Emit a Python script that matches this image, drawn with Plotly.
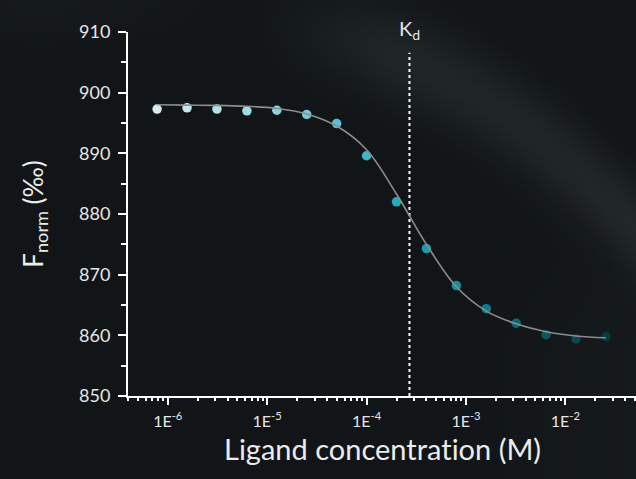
import base64, struct, zlib
import numpy as np
import plotly.graph_objects as go

# ---------------- data ----------------
conc = [7.8125e-7, 1.5625e-6, 3.125e-6, 6.25e-6, 1.25e-5, 2.5e-5, 5e-5, 1e-4,
        2e-4, 4e-4, 8e-4, 1.6e-3, 3.2e-3, 6.4e-3, 1.28e-2, 2.56e-2]
fnorm = [897.3, 897.5, 897.3, 897.0, 897.1, 896.4, 894.9, 889.6,
         882.0, 874.3, 868.2, 864.4, 862.0, 860.1, 859.4, 859.8]
point_colors = ["#d2eef0", "#c2e8ec", "#b0e2e8", "#9edbe2", "#89d3dd", "#72cbd7",
                "#58c1d1", "#3bb6c7", "#22aabd", "#1c9daf", "#178c9d", "#137a89",
                "#106875", "#0d5760", "#0a474e", "#083a3e"]
fit_conc = conc
fit_fnorm = [898.0, 897.95, 897.9, 897.75, 897.4, 896.5, 894.5, 890.6,
             883.3, 875.0, 868.0, 864.0, 861.9, 860.6, 859.9, 859.6]
kd = 2.7e-4
kd_top = 906.6
major_ticks = [1e-6, 1e-5, 1e-4, 1e-3, 1e-2]
major_text = ["1E<sup>-6</sup>", "1E<sup>-5</sup>", "1E<sup>-4</sup>",
              "1E<sup>-3</sup>", "1E<sup>-2</sup>"]
minor_ticks = [m * 10.0 ** e for e in range(-7, 0) for m in range(2, 10)]
x_title = "Ligand concentrat\u200cion (M)"
y_title = "F<sub>norm</sub> (‰)"

# ---------------- background texture ----------------
def make_png(arr):
    h, w, _ = arr.shape
    raw = b"".join(b"\x00" + arr[i].tobytes() for i in range(h))
    def chunk(t, d):
        c = struct.pack(">I", len(d)) + t + d
        return c + struct.pack(">I", zlib.crc32(t + d) & 0xFFFFFFFF)
    return (b"\x89PNG\r\n\x1a\n" + chunk(b"IHDR", struct.pack(">IIBBBBB", w, h, 8, 2, 0, 0, 0))
            + chunk(b"IDAT", zlib.compress(raw, 9)) + chunk(b"IEND", b""))

W, H = 636, 479
gw, gh = 159, 120
xs = np.linspace(0, W, gw)[None, :]
ys = np.linspace(0, H, gh)[:, None]
dx = xs - 290
cy = 30 + 0.096 * dx + 0.001355 * np.clip(dx, 0, None) ** 2
d = ys - cy
streak = np.exp(-(d / 50.0) ** 2) * np.clip((xs - 250) / 140.0, 0, 1)
corner = np.exp(-((xs - 40) / 160.0) ** 2 - (ys / 45.0) ** 2) * 0.5
right = np.clip((xs - 420) / 216.0, 0, 1) * np.clip((ys - 150) / 200.0, 0, 1) * 0.35
lum = streak * 16 + corner * 10 + right * 14
base = np.array([17, 21, 23], dtype=float)
img = np.clip(base[None, None, :] + lum[..., None] * np.array([1.0, 1.06, 1.06]), 0, 255).astype(np.uint8)
bg_uri = "data:image/png;base64," + base64.b64encode(make_png(img)).decode()

# ---------------- figure ----------------
fig = go.Figure()
fig.add_trace(go.Scatter(x=fit_conc, y=fit_fnorm, mode="lines", line_shape="spline",
                         line=dict(color="#8c8c8c", width=1.6), hoverinfo="skip",
                         showlegend=False, xaxis="x2"))
fig.add_trace(go.Scatter(x=[kd, kd], y=[850, kd_top], mode="lines",
                         line=dict(color="white", width=2, dash="3px,3px"),
                         showlegend=False, hoverinfo="skip"))
fig.add_trace(go.Scatter(x=conc, y=fnorm, mode="markers",
                         marker=dict(size=9.5, color=point_colors, line=dict(width=0)),
                         showlegend=False))

fig.add_annotation(x=np.log10(kd), y=1, xref="x", yref="paper", yanchor="bottom",
                   yshift=-13, text="K<sub>d</sub>", showarrow=False,
                   font=dict(family="Lato", size=20, color="#e6e6e6"))
fig.add_annotation(x=0.5, y=-52 / 364, xref="paper", yref="paper", yanchor="middle",
                   xanchor="center", text=x_title, showarrow=False,
                   font=dict(family="Lato", size=29, color="#ececec"))

axis_common = dict(showgrid=False, zeroline=False)
fig.update_layout(
    width=W, height=H,
    margin=dict(l=128, r=0, t=32, b=83, pad=0),
    paper_bgcolor="#121618", plot_bgcolor="rgba(0,0,0,0)",
    images=[dict(source=bg_uri, xref="paper", yref="paper", x=-128 / 508, y=1 + 32 / 364,
                 sizex=W / 508, sizey=H / 364, sizing="stretch", layer="below",
                 xanchor="left", yanchor="top")],
    font=dict(family="Lato", color="#e6e6e6"),
    xaxis=dict(type="log", range=[-6.4, -1.29], **axis_common,
               showline=True, linecolor="white", linewidth=2,
               tickmode="array", tickvals=major_ticks, ticktext=major_text,
               ticks="outside", ticklen=7, tickwidth=1.5, tickcolor="white",
               ticklabelstandoff=3,
               tickfont=dict(family="Lato", size=16, color="#e6e6e6")),
    xaxis2=dict(type="log", range=[-6.4, -1.29], overlaying="x", anchor="y", side="bottom",
                **axis_common, showline=False, tickmode="array", tickvals=minor_ticks,
                ticks="outside", ticklen=4, tickwidth=1.5, tickcolor="white",
                showticklabels=False),
    yaxis=dict(range=[850, 910], **axis_common,
               showline=True, linecolor="white", linewidth=2,
               tickmode="linear", tick0=850, dtick=10,
               ticks="outside", ticklen=8, tickwidth=1.5, tickcolor="white",
               ticklabelstandoff=4,
               tickfont=dict(family="Lato", size=18, color="#e6e6e6"),
               minor=dict(dtick=5, ticks="outside", ticklen=5, tickwidth=1.5,
                          tickcolor="white", showgrid=False),
               title=dict(text=y_title, standoff=28,
                          font=dict(family="Lato", size=26, color="#ececec"))),
)

fig.write_html("out.html", config={"displayModeBar": False},
               post_script="document.body.style.margin='0';document.body.style.overflow='hidden';")
